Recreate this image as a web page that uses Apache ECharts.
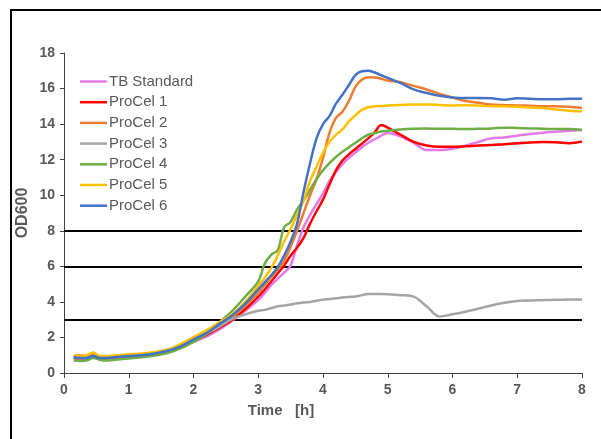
<!DOCTYPE html>
<html>
<head>
<meta charset="utf-8">
<script src="https://cdn.jsdelivr.net/npm/echarts@6/dist/echarts.min.js"></script>
<style>
  html, body { margin: 0; padding: 0; background: #fff; }
  #chart { width: 601px; height: 439px; }
</style>
</head>
<body>
<div id="chart"></div>
<script>
// sampling times (h), shared by every curve
const hours = [0.15, 0.25, 0.35, 0.45, 0.55, 0.65, 0.8, 1.0, 1.2, 1.4, 1.6, 1.8, 2.0,
  2.2, 2.4, 2.6, 2.8, 3.0,
  3.1, 3.2, 3.3, 3.4, 3.5, 3.6, 3.7, 3.8, 3.9, 4.0, 4.1, 4.2, 4.3, 4.4, 4.5, 4.6, 4.7, 4.8, 4.9, 5.0,
  5.2, 5.4, 5.6, 5.8, 6.0, 6.2, 6.4, 6.6, 6.8, 7.0, 7.2, 7.4, 7.6, 7.8, 8.0];

const tbStandard = [0.85, 0.8, 0.8, 0.9, 0.82, 0.8, 0.85, 0.88, 0.95, 1.05, 1.2, 1.45, 1.75,
  2.05, 2.45, 2.95, 3.5, 4.1,
  4.5, 4.95, 5.3, 5.65, 6.05, 7.2, 8.2, 8.9, 9.5, 10.1, 10.8, 11.3, 11.75, 12.1, 12.4, 12.7, 12.95, 13.15, 13.35, 13.5,
  13.3, 12.95, 12.55, 12.55, 12.62, 12.78, 13.0, 13.2, 13.25, 13.35, 13.45, 13.52, 13.57, 13.62, 13.68];

const proCel1 = [0.85, 0.82, 0.85, 0.95, 0.85, 0.83, 0.88, 0.9, 0.98, 1.08, 1.22, 1.48, 1.8,
  2.15, 2.55, 3.0, 3.6, 4.3,
  4.7, 5.15, 5.6, 6.05, 6.6, 7.05, 7.6, 8.4, 9.1, 9.75, 10.6, 11.4, 11.95, 12.3, 12.6, 12.9, 13.2, 13.55, 13.95, 13.8,
  13.4, 13.0, 12.8, 12.72, 12.72, 12.75, 12.8, 12.82, 12.87, 12.92, 12.97, 12.99, 12.98, 12.93, 13.02];

const proCel2 = [0.95, 1.0, 0.95, 1.05, 0.9, 0.9, 0.95, 1.0, 1.05, 1.12, 1.28, 1.52, 1.88,
  2.25, 2.7, 3.15, 3.8, 4.5,
  4.95, 5.4, 5.8, 6.3, 7.1, 8.0, 9.0, 10.0, 10.9, 12.1, 13.5, 14.35, 14.7, 15.3, 16.1, 16.5, 16.63, 16.62, 16.55, 16.45,
  16.35, 16.15, 15.95, 15.7, 15.5, 15.3, 15.2, 15.1, 15.07, 15.05, 15.03, 15.0, 15.0, 14.97, 14.9];

const proCel3 = [0.88, 0.82, 0.85, 0.95, 0.85, 0.85, 0.9, 0.95, 1.0, 1.1, 1.25, 1.5, 1.82,
  2.2, 2.6, 3.05, 3.3, 3.5,
  3.55, 3.65, 3.75, 3.8, 3.85, 3.92, 3.97, 4.0, 4.07, 4.12, 4.16, 4.2, 4.25, 4.28, 4.3, 4.38, 4.44, 4.44, 4.44, 4.43,
  4.38, 4.3, 3.75, 3.18, 3.3, 3.45, 3.62, 3.8, 3.95, 4.05, 4.08, 4.1, 4.12, 4.13, 4.14];

const proCel4 = [0.7, 0.68, 0.7, 0.85, 0.75, 0.7, 0.75, 0.82, 0.88, 0.98, 1.12, 1.38, 1.75,
  2.2, 2.85, 3.5, 4.3, 5.15,
  6.15, 6.65, 6.9, 8.2, 8.5, 9.2, 9.7, 10.3, 10.9, 11.4, 11.8, 12.15, 12.45, 12.7, 12.95, 13.2, 13.4, 13.5, 13.58, 13.62,
  13.7, 13.74, 13.75, 13.74, 13.74, 13.72, 13.74, 13.76, 13.8, 13.78, 13.76, 13.74, 13.72, 13.72, 13.66];

const proCel5 = [1.0, 0.95, 1.0, 1.15, 0.95, 0.95, 1.0, 1.05, 1.1, 1.18, 1.32, 1.62, 2.02,
  2.4, 2.85, 3.3, 4.0, 4.9,
  5.35, 5.9, 6.6, 7.4, 8.1, 8.9, 9.7, 10.8, 11.6, 12.4, 13.0, 13.4, 13.7, 14.15, 14.5, 14.8, 14.95, 15.0, 15.02, 15.05,
  15.08, 15.1, 15.1, 15.08, 15.05, 15.06, 15.05, 15.0, 15.0, 14.97, 14.93, 14.9, 14.82, 14.75, 14.72];

const proCel6 = [0.9, 0.85, 0.85, 0.95, 0.85, 0.85, 0.9, 0.95, 1.0, 1.1, 1.25, 1.5, 1.88,
  2.25, 2.75, 3.25, 3.9, 4.7,
  5.1, 5.5, 5.95, 6.6, 7.4, 8.4, 10.2, 11.8, 13.2, 14.0, 14.45, 15.15, 15.65, 16.2, 16.75, 16.97, 17.0, 16.9, 16.75, 16.6,
  16.3, 15.95, 15.75, 15.6, 15.5, 15.47, 15.47, 15.45, 15.37, 15.45, 15.42, 15.4, 15.4, 15.42, 15.43];

const seriesNames = ['TB Standard', 'ProCel 1', 'ProCel 2', 'ProCel 3', 'ProCel 4', 'ProCel 5', 'ProCel 6'];
const seriesValues = [tbStandard, proCel1, proCel2, proCel3, proCel4, proCel5, proCel6];
const seriesColors = ['#E27AE8', '#FF0000', '#ED7D31', '#A5A5A5', '#70AD47', '#FFC000', '#4472C4'];

// horizontal reference levels (OD600)
const refLevels = [8, 6, 3];

const font = 'Liberation Sans, Arial, sans-serif';
const chart = echarts.init(document.getElementById('chart'), null, { renderer: 'canvas' });

const series = seriesNames.map((name, k) => {
  const s = {
    name: name,
    type: 'line',
    data: hours.map((h, i) => [h, seriesValues[k][i]]),
    showSymbol: false,
    symbol: 'none',
    smooth: 0.35,
    lineStyle: { color: seriesColors[k], width: 2.5 },
    itemStyle: { color: seriesColors[k] },
    z: 3
  };
  if (k === 0) {
    s.markLine = {
      silent: true,
      symbol: ['none', 'none'],
      label: { show: false },
      lineStyle: { color: '#000', width: 2, type: 'solid' },
      data: refLevels.map(v => ({ yAxis: v })),
      z: 1
    };
  }
  return s;
});

const option = {
  animation: false,
  backgroundColor: '#fff',
  graphic: [{
    type: 'rect',
    shape: { x: 11, y: 10, width: 620, height: 460 },
    style: { fill: 'none', stroke: '#000', lineWidth: 2 },
    silent: true
  }],
  legend: {
    orient: 'vertical',
    left: 80,
    top: 74,
    padding: 0,
    icon: 'rect',
    itemWidth: 27,
    itemHeight: 2.5,
    itemGap: 5.7,
    data: seriesNames,
    textStyle: { fontFamily: font, fontSize: 15, lineHeight: 15, color: '#595959', padding: [0, 0, 0, -3] }
  },
  grid: { left: 64, right: 19, top: 53, bottom: 66, containLabel: false },
  xAxis: {
    type: 'value',
    min: 0,
    max: 8,
    interval: 1,
    name: 'Time   [h]',
    nameLocation: 'middle',
    nameGap: 30,
    nameMoveOverlap: false,
    nameTextStyle: { fontFamily: font, fontSize: 15, fontWeight: 'bold', color: '#595959', padding: [0, 84, 0, 0] },
    axisLine: { lineStyle: { color: '#404040', width: 1 } },
    axisTick: { length: 5, lineStyle: { color: '#404040' } },
    axisLabel: { fontFamily: font, fontSize: 14, fontWeight: 'bold', color: '#595959', margin: 10 },
    splitLine: { show: false }
  },
  yAxis: {
    type: 'value',
    min: 0,
    max: 18,
    interval: 2,
    name: 'OD600',
    nameLocation: 'middle',
    nameGap: 33,
    nameMoveOverlap: false,
    nameTextStyle: { fontFamily: font, fontSize: 16, fontWeight: 'bold', color: '#595959' },
    axisLine: { show: true, lineStyle: { color: '#404040', width: 1 } },
    axisTick: { show: true, length: 4, lineStyle: { color: '#404040' } },
    axisLabel: { fontFamily: font, fontSize: 14, fontWeight: 'bold', color: '#595959', margin: 9 },
    splitLine: { show: false }
  },
  series: series
};

chart.setOption(option);
</script>
</body>
</html>
